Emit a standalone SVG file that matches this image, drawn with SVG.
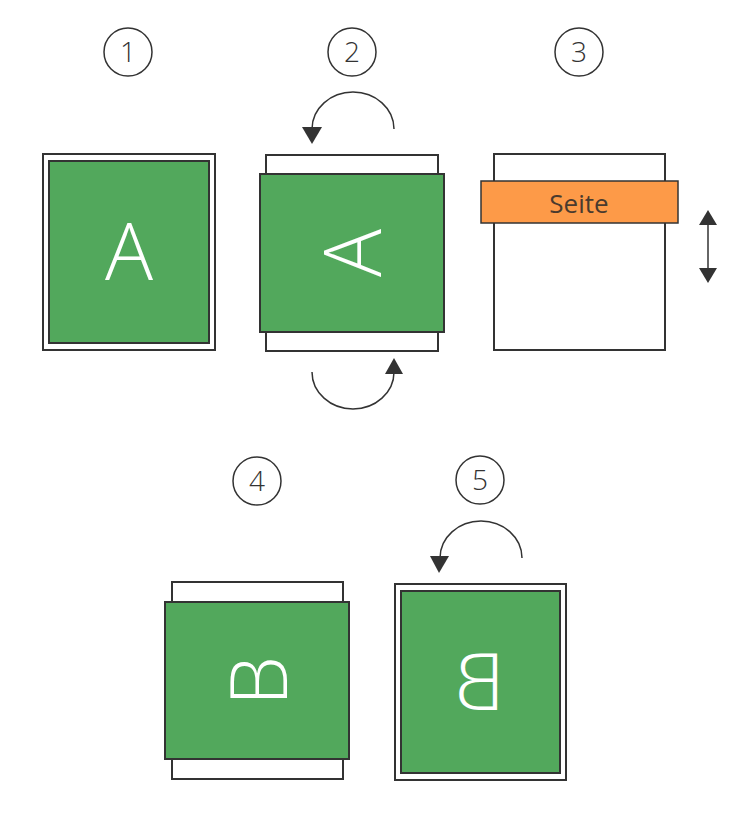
<svg xmlns="http://www.w3.org/2000/svg" width="748" height="813" viewBox="0 0 748 813">
<defs>
<style>
.frame{fill:#fff;stroke:#333;stroke-width:2}
.page{fill:#52a85c;stroke:#333;stroke-width:2}
.num{fill:#fff;stroke:#333;stroke-width:1.5}
.numt{font-family:"Open Sans","Noto Sans",sans-serif;font-size:28px;font-weight:300;fill:#333;text-anchor:middle}
.big{font-family:"Open Sans","Noto Sans",sans-serif;font-size:80px;font-weight:300;fill:#fff;text-anchor:middle}
.arc{fill:none;stroke:#333;stroke-width:1.5}
.head{fill:#333}
</style>
</defs>
<rect width="748" height="813" fill="#fff"/>
<g id="step1">
<circle class="num" cx="128" cy="52" r="24"/>
<text class="numt" x="128" y="62">1</text>
<rect class="frame" x="43" y="154" width="172" height="196"/>
<rect class="page" x="49" y="161" width="160" height="182"/>
<text class="big" x="129" y="280">A</text>
</g>
<g id="step2">
<circle class="num" cx="352" cy="52" r="24"/>
<text class="numt" x="352" y="62">2</text>
<rect class="frame" x="266" y="155" width="172" height="196"/>
<rect class="page" x="260" y="174" width="184" height="158"/>
<g transform="translate(352,253) rotate(-90)"><text class="big" x="0" y="29">A</text></g>
</g>
<g id="step3">
<circle class="num" cx="579" cy="52" r="24"/>
<text class="numt" x="579" y="62">3</text>
<rect class="frame" x="494" y="154" width="171" height="196"/>
<rect x="481" y="181" width="197" height="42" fill="#fd9a48" stroke="#333" stroke-width="1.5"/>
<text x="579" y="213" font-family="Open Sans, Noto Sans, sans-serif" font-size="26" fill="#4a3a2e" text-anchor="middle">Seite</text>
</g>
<g id="step4">
<circle class="num" cx="257" cy="481" r="24"/>
<text class="numt" x="257" y="491">4</text>
<rect class="frame" x="172" y="582" width="171" height="197"/>
<rect class="page" x="165" y="602" width="184" height="157"/>
<g transform="translate(258,681) rotate(-90)"><text class="big" x="0" y="29">B</text></g>
</g>
<g id="step5">
<circle class="num" cx="480" cy="480" r="24"/>
<text class="numt" x="480" y="490">5</text>
<rect class="frame" x="395" y="584" width="171" height="196"/>
<rect class="page" x="401" y="591" width="159" height="182"/>
<g transform="translate(480,682) scale(-1,1)"><text class="big" x="0" y="28">B</text></g>
</g>
<g id="connectors">
<path class="arc" d="M394,129 A41,37 0 0 0 312,129"/>
<polygon class="head" points="302,127 322,127 312,144"/>
<path class="arc" d="M312,372 A41,37 0 0 0 394,372"/>
<polygon class="head" points="385,374 403,374 394,358"/>
<line x1="708" y1="222" x2="708" y2="271" stroke="#333" stroke-width="1.5"/>
<polygon class="head" points="699,225 717,225 708,210"/>
<polygon class="head" points="699,268 717,268 708,283"/>
<path class="arc" d="M522,558 A41,37 0 0 0 440,558"/>
<polygon class="head" points="430,556 449,556 439,573"/>
</g>
</svg>
